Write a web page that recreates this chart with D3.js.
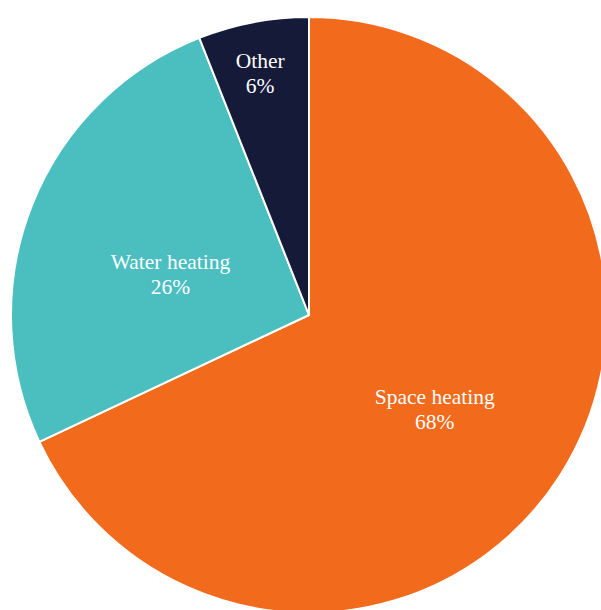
<!DOCTYPE html>
<html>
<head>
<meta charset="utf-8">
<script src="https://cdn.jsdelivr.net/npm/d3@7"></script>
<style>
  body { margin: 0; background: #fff; }
  svg { display: block; }
</style>
</head>
<body>
<svg width="601" height="610"></svg>
<script>
const categories = ["Space heating", "Water heating", "Other"]
const shares = [68, 26, 6]
const colors = ["#f26a1b", "#4bbec0", "#151a38"]

const width = 601
const height = 610
const cx = 309
const cy = 315
const radius = 298

const svg = d3.select("svg")
const g = svg.append("g")
  .attr("transform", "translate(" + cx + "," + cy + ")")

const rows = categories.map((c, i) => ({ name: c, value: shares[i], color: colors[i] }))

const pie = d3.pie()
  .value(d => d.value)
  .sort(null)

const arc = d3.arc()
  .innerRadius(0)
  .outerRadius(radius)

const arcs = pie(rows)

g.selectAll("path")
  .data(arcs)
  .enter().append("path")
  .attr("d", arc)
  .attr("fill", d => d.data.color)
  .attr("stroke", "#fff")
  .attr("stroke-width", 2)
  .attr("stroke-linejoin", "round")

// small slices get their label pushed out toward the rim
function labelPos(d) {
  const r = d.data.value < 10 ? radius * 0.875 : radius * 0.5
  return d3.arc().innerRadius(r).outerRadius(r).centroid(d)
}

const labels = g.selectAll("text.label")
  .data(arcs)
  .enter().append("text")
  .attr("class", "label")
  .attr("transform", d => "translate(" + labelPos(d) + ")")
  .attr("text-anchor", "middle")
  .style("font-family", "'Liberation Serif', 'Times New Roman', serif")
  .style("font-size", "21.5px")
  .attr("fill", "#fff")

labels.append("tspan")
  .attr("x", 0)
  .attr("y", 9)
  .text(d => d.data.name)

labels.append("tspan")
  .attr("x", 0)
  .attr("y", 34)
  .text(d => d.data.value + "%")
</script>
</body>
</html>
